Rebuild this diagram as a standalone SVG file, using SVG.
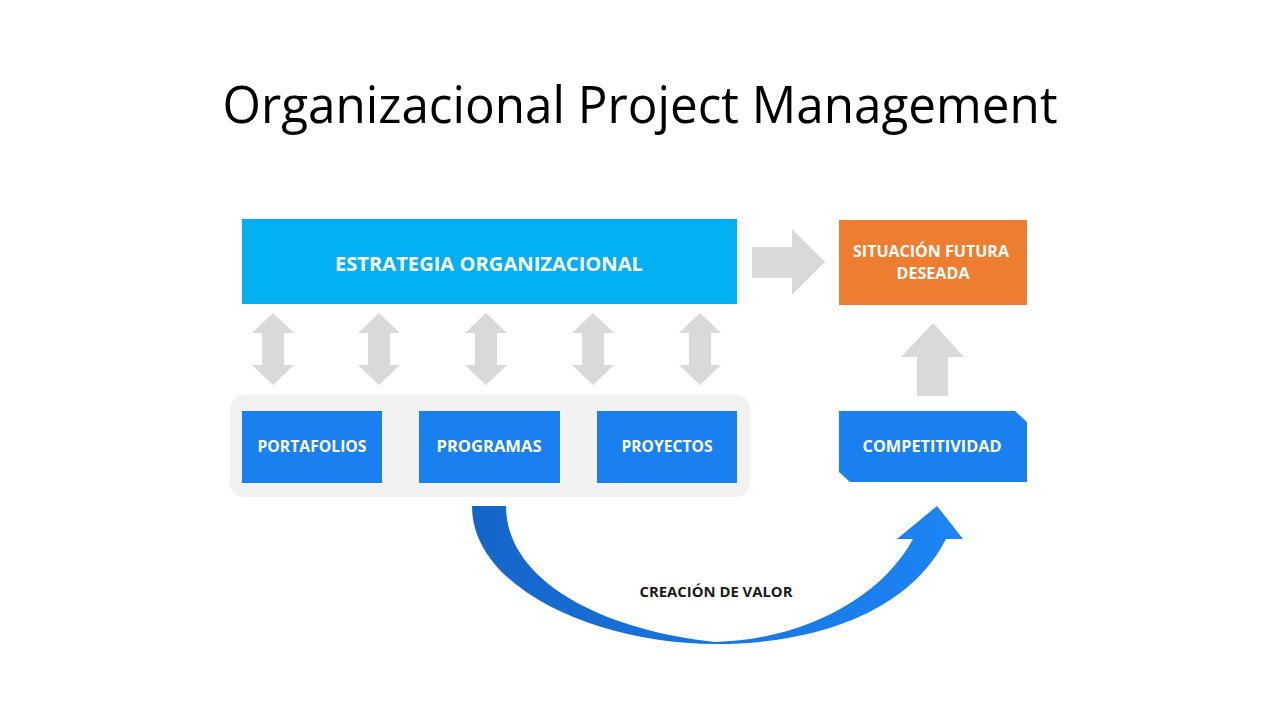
<svg xmlns="http://www.w3.org/2000/svg" width="1280" height="720" viewBox="0 0 1280 720">
<style>
.lbl{font-family:"Open Sans","Liberation Sans",sans-serif;font-weight:bold;fill:#ffffff;text-anchor:middle}
.gray{fill:#d9d9d9}
.blue{fill:#1a80f0}
</style>
<defs>
<linearGradient id="curveGrad" x1="472" y1="0" x2="963" y2="0" gradientUnits="userSpaceOnUse">
<stop offset="0" stop-color="#1565c8"/>
<stop offset="1" stop-color="#1c85f5"/>
</linearGradient>
<path id="dbl" d="M0,0 L21,20 L11,20 L11,52 L21,52 L0,72 L-21,52 L-11,52 L-11,20 L-21,20 Z"/>
</defs>
<rect width="1280" height="720" fill="#ffffff"/>
<text x="640" y="123" font-family="'Open Sans','Liberation Sans',sans-serif" font-size="52" fill="#000000" text-anchor="middle" textLength="835" lengthAdjust="spacingAndGlyphs">Organizacional Project Management</text>

<g id="container">
<rect x="230" y="395" width="520" height="102" rx="14" fill="#f2f2f2"/>
</g>

<g id="estrategia">
<rect x="242" y="219" width="495" height="85" fill="#00b0f0"/>
<text class="lbl" x="489" y="271" font-size="20" textLength="308" lengthAdjust="spacingAndGlyphs">ESTRATEGIA ORGANIZACIONAL</text>
</g>

<g id="situacion">
<rect x="839" y="220" width="188" height="85" fill="#ed7d31"/>
<text class="lbl" x="931" y="257" font-size="16" textLength="156" lengthAdjust="spacingAndGlyphs">SITUACIÓN FUTURA</text>
<text class="lbl" x="933" y="279" font-size="16" textLength="73" lengthAdjust="spacingAndGlyphs">DESEADA</text>
</g>

<g id="portafolios">
<rect class="blue" x="242" y="411" width="140" height="72"/>
<text class="lbl" x="312" y="452" font-size="16" textLength="109" lengthAdjust="spacingAndGlyphs">PORTAFOLIOS</text>
</g>

<g id="programas">
<rect class="blue" x="419" y="411" width="141" height="72"/>
<text class="lbl" x="489" y="452" font-size="16" textLength="105" lengthAdjust="spacingAndGlyphs">PROGRAMAS</text>
</g>

<g id="proyectos">
<rect class="blue" x="597" y="411" width="140" height="72"/>
<text class="lbl" x="667" y="452" font-size="16" textLength="91" lengthAdjust="spacingAndGlyphs">PROYECTOS</text>
</g>

<g id="competitividad">
<path class="blue" d="M839,411 L1015,411 L1027,422 L1027,482 L850,482 L839,472 Z"/>
<text class="lbl" x="932" y="452" font-size="16" textLength="139" lengthAdjust="spacingAndGlyphs">COMPETITIVIDAD</text>
</g>

<g id="connectors">
<use href="#dbl" class="gray" x="273" y="313"/>
<use href="#dbl" class="gray" x="379" y="313"/>
<use href="#dbl" class="gray" x="486" y="313"/>
<use href="#dbl" class="gray" x="593" y="313"/>
<use href="#dbl" class="gray" x="700" y="313"/>
<path class="gray" d="M752,247 L792,247 L792,229 L825,262 L792,295 L792,278 L752,278 Z"/>
<path class="gray" d="M917,396 L917,357 L901,357 L933,323 L964,357 L948,357 L948,396 Z"/>
<path fill="url(#curveGrad)" d="M472,506 C472,590 600,644 715,644 C820,644 910,610 946,539 L963,539 L937,506 L897,539 L913,539 C880,600 800,640 715,642 C600,630 506,580 506,506 Z"/>
<text x="716" y="597" font-family="'Open Sans','Liberation Sans',sans-serif" font-weight="bold" font-size="14" fill="#1a1a1a" text-anchor="middle" textLength="153" lengthAdjust="spacingAndGlyphs">CREACIÓN DE VALOR</text>
</g>
</svg>
